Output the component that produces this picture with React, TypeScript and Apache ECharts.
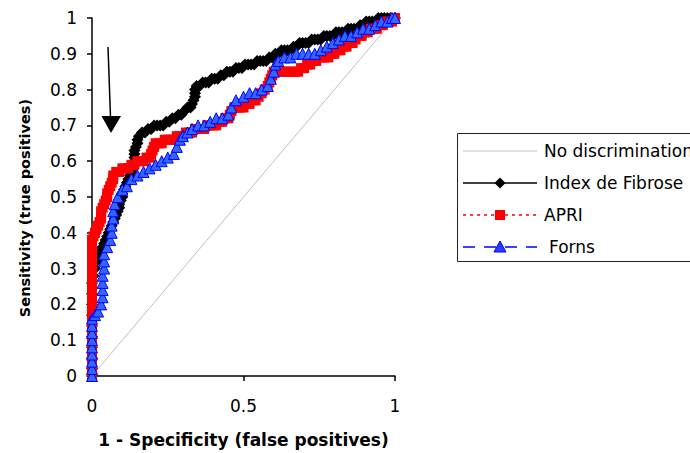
import React, { useEffect, useRef } from "react";
import * as echarts from "echarts";

const xTickLabels = ["0", "0.5", "1"];
const yTickLabels = ["0", "0.1", "0.2", "0.3", "0.4", "0.5", "0.6", "0.7", "0.8", "0.9", "1"];
const seriesNames = ["No discrimination", "Index de Fibrose", "APRI", "Forns"];

const noDiscrimination = [[0, 0], [1, 1]];

const indexFibrose = [
  [0, 0], [0, 0.02], [0, 0.05], [0, 0.08], [0, 0.11], [0, 0.14], [0, 0.17], [0, 0.2], [0, 0.23], [0, 0.26],
  [0.005, 0.28], [0.01, 0.3], [0.015, 0.32], [0.02, 0.33], [0.025, 0.34], [0.03, 0.35], [0.035, 0.36],
  [0.04, 0.37], [0.045, 0.38], [0.05, 0.39], [0.055, 0.4], [0.06, 0.41], [0.065, 0.42], [0.07, 0.43],
  [0.075, 0.44], [0.08, 0.45], [0.085, 0.46], [0.09, 0.47], [0.09, 0.48], [0.095, 0.49], [0.1, 0.5],
  [0.1, 0.51], [0.105, 0.52], [0.11, 0.53], [0.115, 0.54], [0.12, 0.55], [0.125, 0.56], [0.13, 0.57],
  [0.135, 0.58], [0.14, 0.59], [0.14, 0.6], [0.14, 0.61], [0.14, 0.62], [0.14, 0.63], [0.145, 0.64],
  [0.15, 0.65], [0.15, 0.66], [0.155, 0.67], [0.165, 0.68], [0.175, 0.68], [0.185, 0.69], [0.195, 0.69],
  [0.205, 0.7], [0.215, 0.7], [0.225, 0.7], [0.235, 0.7], [0.245, 0.71], [0.255, 0.71], [0.265, 0.72],
  [0.275, 0.72], [0.285, 0.73], [0.295, 0.73], [0.305, 0.74], [0.315, 0.75], [0.325, 0.75], [0.33, 0.76],
  [0.335, 0.77], [0.34, 0.78], [0.34, 0.79], [0.34, 0.8], [0.345, 0.81], [0.355, 0.81], [0.365, 0.82],
  [0.375, 0.82], [0.385, 0.82], [0.395, 0.83], [0.405, 0.83], [0.415, 0.83], [0.425, 0.84], [0.435, 0.84],
  [0.445, 0.85], [0.455, 0.85], [0.465, 0.85], [0.475, 0.86], [0.485, 0.86], [0.495, 0.86], [0.505, 0.87],
  [0.515, 0.87], [0.525, 0.87], [0.535, 0.87], [0.545, 0.88], [0.555, 0.88], [0.565, 0.88], [0.575, 0.88],
  [0.585, 0.89], [0.595, 0.89], [0.605, 0.9], [0.615, 0.9], [0.625, 0.91], [0.635, 0.91], [0.645, 0.91],
  [0.655, 0.91], [0.665, 0.92], [0.675, 0.92], [0.685, 0.93], [0.695, 0.93], [0.705, 0.93], [0.715, 0.93],
  [0.725, 0.94], [0.735, 0.94], [0.745, 0.94], [0.755, 0.94], [0.765, 0.95], [0.775, 0.95], [0.785, 0.95],
  [0.795, 0.95], [0.805, 0.96], [0.815, 0.96], [0.825, 0.96], [0.835, 0.96], [0.845, 0.97], [0.855, 0.97],
  [0.865, 0.97], [0.875, 0.97], [0.885, 0.98], [0.895, 0.98], [0.905, 0.99], [0.915, 0.99], [0.925, 0.99],
  [0.935, 0.99], [0.945, 1], [0.955, 1], [0.965, 1], [0.975, 1], [0.985, 1], [1, 1],
];

const apri = [
  [0, 0], [0, 0.02], [0, 0.04], [0, 0.06], [0, 0.08], [0, 0.1], [0, 0.12], [0, 0.14], [0, 0.16], [0, 0.18],
  [0, 0.2], [0, 0.22], [0, 0.24], [0, 0.26], [0, 0.28], [0, 0.3], [0, 0.32], [0, 0.34], [0, 0.36], [0, 0.38],
  [0.005, 0.39], [0.01, 0.4], [0.015, 0.41], [0.02, 0.42], [0.025, 0.43], [0.03, 0.44], [0.03, 0.45],
  [0.03, 0.46], [0.035, 0.47], [0.04, 0.48], [0.045, 0.49], [0.05, 0.5], [0.05, 0.51], [0.055, 0.52],
  [0.06, 0.53], [0.065, 0.54], [0.07, 0.55], [0.07, 0.56], [0.08, 0.57], [0.09, 0.57], [0.1, 0.58],
  [0.11, 0.58], [0.12, 0.58], [0.13, 0.59], [0.14, 0.59], [0.15, 0.6], [0.16, 0.6], [0.17, 0.6],
  [0.18, 0.61], [0.19, 0.61], [0.195, 0.62], [0.2, 0.63], [0.205, 0.64], [0.21, 0.65], [0.22, 0.65],
  [0.23, 0.65], [0.24, 0.66], [0.25, 0.66], [0.26, 0.66], [0.27, 0.66], [0.28, 0.67], [0.29, 0.67],
  [0.3, 0.67], [0.31, 0.68], [0.32, 0.68], [0.33, 0.68], [0.34, 0.69], [0.35, 0.69], [0.36, 0.69],
  [0.37, 0.69], [0.38, 0.7], [0.39, 0.7], [0.4, 0.7], [0.41, 0.7], [0.42, 0.71], [0.43, 0.71], [0.44, 0.72],
  [0.45, 0.72], [0.455, 0.73], [0.46, 0.74], [0.47, 0.75], [0.48, 0.75], [0.49, 0.75], [0.5, 0.75],
  [0.51, 0.76], [0.52, 0.76], [0.53, 0.77], [0.54, 0.77], [0.55, 0.78], [0.56, 0.79], [0.57, 0.8],
  [0.58, 0.81], [0.585, 0.82], [0.59, 0.83], [0.595, 0.84], [0.6, 0.85], [0.61, 0.85], [0.62, 0.85],
  [0.63, 0.85], [0.64, 0.85], [0.65, 0.85], [0.66, 0.85], [0.67, 0.85], [0.68, 0.85], [0.69, 0.86],
  [0.7, 0.86], [0.71, 0.87], [0.72, 0.87], [0.73, 0.88], [0.74, 0.88], [0.75, 0.89], [0.76, 0.89],
  [0.77, 0.89], [0.78, 0.89], [0.79, 0.9], [0.8, 0.9], [0.81, 0.91], [0.82, 0.91], [0.83, 0.92],
  [0.84, 0.92], [0.85, 0.93], [0.86, 0.93], [0.87, 0.94], [0.88, 0.95], [0.89, 0.95], [0.9, 0.96],
  [0.91, 0.96], [0.92, 0.97], [0.93, 0.97], [0.94, 0.97], [0.95, 0.98], [0.96, 0.98], [0.97, 0.99],
  [0.98, 0.99], [0.99, 0.99], [1, 1],
];

const forns = [
  [0, 0], [0, 0.02], [0, 0.04], [0, 0.06], [0, 0.08], [0, 0.1], [0, 0.12], [0, 0.14], [0, 0.16],
  [0.01, 0.17], [0.02, 0.18], [0.03, 0.2], [0.035, 0.22], [0.035, 0.24], [0.035, 0.26], [0.035, 0.28],
  [0.04, 0.3], [0.04, 0.32], [0.04, 0.34], [0.05, 0.36], [0.06, 0.38], [0.065, 0.4], [0.065, 0.42],
  [0.07, 0.44], [0.07, 0.46], [0.075, 0.48], [0.085, 0.5], [0.1, 0.52], [0.115, 0.53], [0.13, 0.55],
  [0.15, 0.56], [0.17, 0.57], [0.19, 0.58], [0.21, 0.59], [0.23, 0.6], [0.25, 0.61], [0.27, 0.62],
  [0.28, 0.64], [0.29, 0.66], [0.3, 0.67], [0.315, 0.68], [0.33, 0.69], [0.35, 0.7], [0.37, 0.7],
  [0.39, 0.71], [0.41, 0.72], [0.43, 0.72], [0.45, 0.73], [0.46, 0.75], [0.475, 0.77], [0.5, 0.78],
  [0.52, 0.79], [0.54, 0.79], [0.56, 0.8], [0.58, 0.81], [0.59, 0.83], [0.6, 0.85], [0.605, 0.87],
  [0.615, 0.88], [0.635, 0.89], [0.655, 0.89], [0.675, 0.9], [0.695, 0.9], [0.715, 0.9], [0.735, 0.9],
  [0.755, 0.91], [0.775, 0.92], [0.795, 0.93], [0.815, 0.94], [0.835, 0.95], [0.855, 0.95],
  [0.875, 0.96], [0.895, 0.97], [0.915, 0.97], [0.935, 0.98], [0.955, 0.99], [0.975, 0.99], [0.99, 1], [1, 1],
];

const FONT = "DejaVu Sans";

export default function App() {
  const ref = useRef<HTMLDivElement>(null);
  useEffect(() => {
    if (!ref.current) return;
    const chart = echarts.init(ref.current, undefined, { renderer: "svg" });
    const legendRows = [151, 183, 215, 247];
    const lx1 = 463, lx2 = 537, lc = 500, tx = 544;
    chart.setOption({
      animation: false,
      backgroundColor: "#ffffff",
      grid: { left: 92, top: 18, width: 303, height: 360, containLabel: false },
      xAxis: {
        type: "value",
        min: 0,
        max: 1,
        interval: 0.5,
        name: "1 - Specificity (false positives)",
        nameLocation: "middle",
        nameGap: 55,
        nameTextStyle: { fontFamily: FONT, fontWeight: "bold", fontSize: 17, color: "#000" },
        axisLine: { onZero: false, lineStyle: { color: "#000", width: 1.5 } },
        axisTick: { show: true, length: 5, lineStyle: { color: "#000", width: 1.5 } },
        axisLabel: {
          fontFamily: FONT,
          fontSize: 17,
          color: "#000",
          margin: 21,
          formatter: (v: number) => xTickLabels[Math.round(v * 2)] ?? "",
        },
        splitLine: { show: false },
      },
      yAxis: {
        type: "value",
        min: 0,
        max: 1,
        interval: 0.1,
        axisLine: { onZero: false, lineStyle: { color: "#000", width: 1.5 } },
        axisTick: { show: true, length: 5, lineStyle: { color: "#000", width: 1.5 } },
        axisLabel: {
          fontFamily: FONT,
          fontSize: 17,
          color: "#000",
          margin: 15,
          formatter: (v: number) => yTickLabels[Math.round(v * 10)] ?? "",
        },
        splitLine: { show: false },
      },
      series: [
        {
          name: seriesNames[0],
          type: "line",
          data: noDiscrimination,
          showSymbol: false,
          symbol: "none",
          lineStyle: { color: "#c0c0c0", width: 1 },
          clip: false,
          z: 1,
        },
        {
          name: seriesNames[1],
          type: "line",
          data: indexFibrose,
          symbol: "diamond",
          symbolSize: 12,
          showAllSymbol: true,
          itemStyle: { color: "#000" },
          lineStyle: { color: "#000", width: 1.5 },
          clip: false,
          z: 2,
        },
        {
          name: seriesNames[2],
          type: "line",
          data: apri,
          symbol: "rect",
          symbolSize: 10,
          showAllSymbol: true,
          itemStyle: { color: "#ff0000" },
          lineStyle: { color: "#ff0000", width: 1.5, type: [3, 4] },
          clip: false,
          z: 3,
        },
        {
          name: seriesNames[3],
          type: "line",
          data: forns,
          symbol: "triangle",
          symbolSize: 11,
          showAllSymbol: true,
          itemStyle: { color: "#3366ff", borderColor: "#0000ff", borderWidth: 1 },
          lineStyle: { color: "#0000ff", width: 1.5, type: [12, 9] },
          clip: false,
          z: 4,
        },
      ],
      graphic: [
        {
          type: "text",
          x: 25,
          y: 208,
          rotation: Math.PI / 2,
          style: {
            text: "Sensitivity (true positives)",
            font: `bold 14.5px "${FONT}"`,
            fill: "#000",
            textAlign: "center",
            textVerticalAlign: "middle",
          },
        },
        {
          type: "line",
          shape: { x1: 108, y1: 47, x2: 110.5, y2: 117 },
          style: { stroke: "#000", lineWidth: 1.5 },
        },
        {
          type: "polygon",
          shape: { points: [[101.5, 116], [121, 116], [111, 133]] },
          style: { fill: "#000" },
        },
        {
          type: "rect",
          shape: { x: 457.5, y: 133.5, width: 260, height: 128 },
          style: { fill: "#fff", stroke: "#222", lineWidth: 1 },
        },
        {
          type: "line",
          shape: { x1: lx1, y1: legendRows[0], x2: lx2, y2: legendRows[0] },
          style: { stroke: "#c0c0c0", lineWidth: 1 },
        },
        {
          type: "line",
          shape: { x1: lx1, y1: legendRows[1], x2: lx2, y2: legendRows[1] },
          style: { stroke: "#000", lineWidth: 1.5 },
        },
        {
          type: "polygon",
          shape: {
            points: [
              [lc, legendRows[1] - 5.5], [lc + 5.5, legendRows[1]],
              [lc, legendRows[1] + 5.5], [lc - 5.5, legendRows[1]],
            ],
          },
          style: { fill: "#000" },
        },
        {
          type: "line",
          shape: { x1: lx1, y1: legendRows[2], x2: lx2, y2: legendRows[2] },
          style: { stroke: "#ff0000", lineWidth: 1.5, lineDash: [3, 4] },
        },
        {
          type: "rect",
          shape: { x: lc - 5, y: legendRows[2] - 5, width: 10, height: 10 },
          style: { fill: "#ff0000" },
        },
        {
          type: "line",
          shape: { x1: lx1, y1: legendRows[3], x2: lx2, y2: legendRows[3] },
          style: { stroke: "#0000ff", lineWidth: 1.5, lineDash: [12, 9] },
        },
        {
          type: "polygon",
          shape: {
            points: [[lc, legendRows[3] - 6], [lc + 6, legendRows[3] + 5], [lc - 6, legendRows[3] + 5]],
          },
          style: { fill: "#2a3cff", stroke: "#0000ff", lineWidth: 1 },
        },
        ...seriesNames.map((n, i) => ({
          type: "text",
          x: i === 3 ? tx + 5 : tx,
          y: legendRows[i],
          style: {
            text: n,
            font: `17px "${FONT}"`,
            fill: "#000",
            textAlign: "left",
            textVerticalAlign: "middle",
          },
        })),
      ],
    });
    return () => chart.dispose();
  }, []);
  return (
    <div
      ref={ref}
      style={{ position: "fixed", left: 0, top: 0, width: 690, height: 453, background: "#fff" }}
    />
  );
}
